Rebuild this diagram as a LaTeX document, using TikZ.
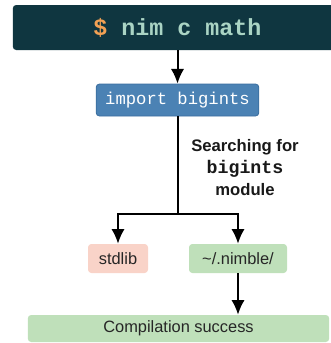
\documentclass[tikz,border=0pt]{standalone}
\usepackage{fontspec}
\setmainfont{Liberation Sans}
\setmonofont{Liberation Mono}
\usepackage{xcolor}
\usetikzlibrary{arrows.meta, math}
\definecolor{termbg}{HTML}{0F3640}
\definecolor{dollar}{HTML}{F2A154}
\definecolor{cmdtext}{HTML}{AAD4C4}
\definecolor{impfill}{HTML}{4B82B4}
\definecolor{impline}{HTML}{3A6D9E}
\definecolor{libfill}{HTML}{F9D3C8}
\definecolor{nimfill}{HTML}{BFE0BA}

\begin{document}
\begin{tikzpicture}[x=0.75pt, y=-0.75pt,
  box/.style={rounded corners=2.5pt, inner sep=0pt, text=black!85,
    font=\fontsize{12.3}{14}\selectfont},
  flow/.style={-{Latex[length=11pt,width=10pt]}, line width=1.5pt}]
\tikzmath{
\xc=177.5;
\yj=214;
}
\useasboundingbox (0,0) rectangle (330,343);
%command line
\node[box, fill=termbg, minimum width=247pt, minimum height=33.75pt,
  font=\fontsize{17.5}{20}\selectfont\ttfamily\bfseries] (cmd) at (\xc,27.5)
  {\textcolor{dollar}{\$} \textcolor{cmdtext}{nim c math}};
%import
\node[box, fill=impfill, draw=impline, line width=0.6pt, text=white,
  minimum width=122pt, minimum height=24pt,
  font=\fontsize{12.9}{14}\selectfont\ttfamily] (imp) at (\xc,100) {import bigints};
\draw[flow] (cmd) -- (imp);

%search paths
\coordinate (split) at (\xc,\yj);
\node[box, fill=libfill, minimum width=45pt, minimum height=21.75pt] (lib) at (118,258.5) {stdlib};
\node[box, fill=nimfill, minimum width=73.5pt, minimum height=21.75pt] (nimble) at (238,258.5) {\textasciitilde/.nimble/};
\draw[line width=1.5pt] (imp) -- (split);
\draw[flow] (split) -| (lib);
\draw[flow] (split) -| (nimble);
\node[align=center, text=black!90, font=\fontsize{12.5}{16.5}\selectfont\bfseries] (search) at (245,168)
  {Searching for\\ {\fontsize{13.7}{16.5}\selectfont\ttfamily bigints}\\ module};

%result
\node[box, fill=nimfill, minimum width=226pt, minimum height=20.25pt] (done) at (178.5,328.5) {Compilation success};
\draw[flow] (nimble) -- (nimble |- done.north);
\end{tikzpicture}
\end{document}
